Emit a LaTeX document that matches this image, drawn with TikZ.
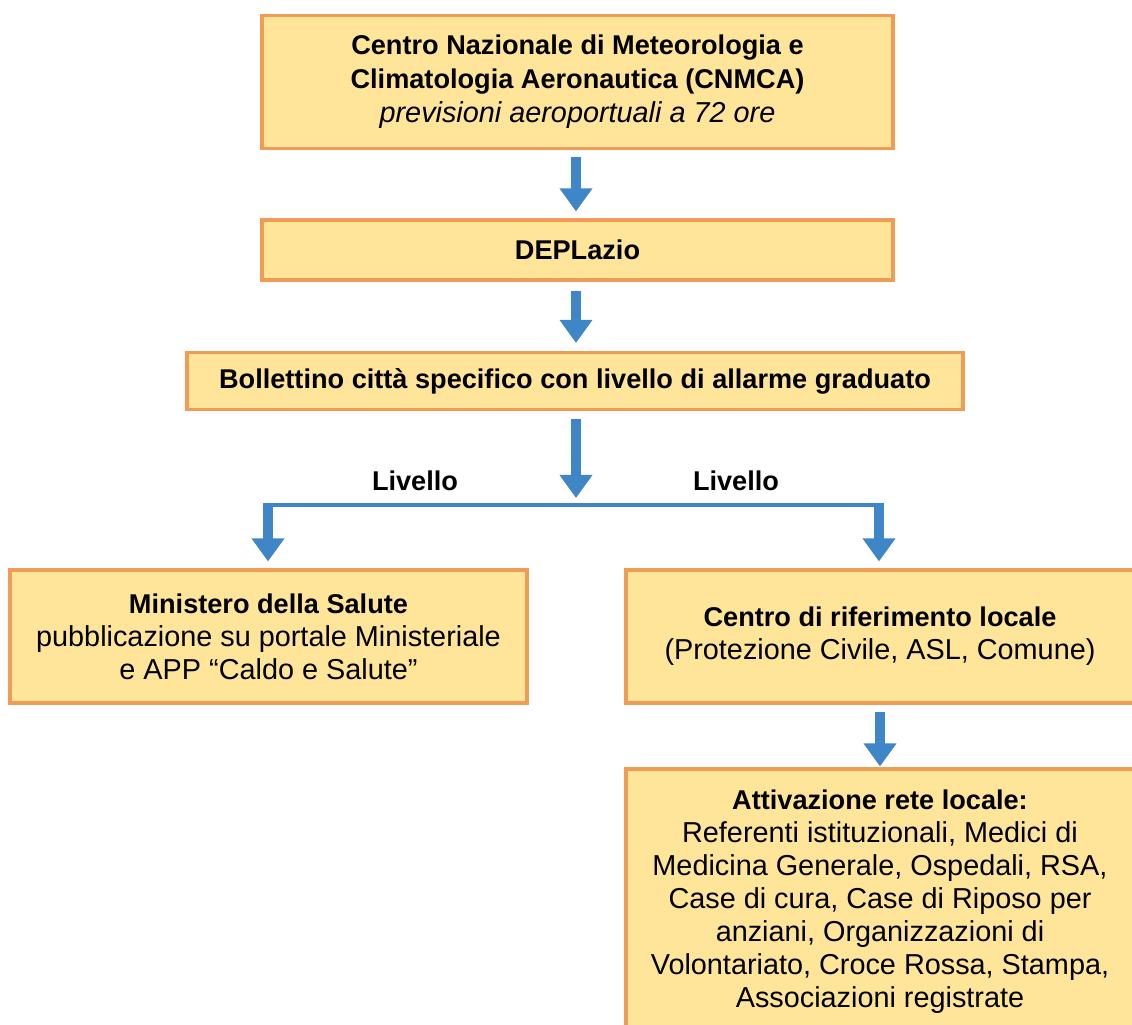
\documentclass[tikz,border=0pt]{standalone}
\usepackage{fontspec}
\setmainfont{Liberation Sans}
\usetikzlibrary{arrows.meta,positioning}

\definecolor{boxfill}{RGB}{255,229,153}
\definecolor{boxline}{RGB}{241,156,84}
\definecolor{arrowblue}{RGB}{62,134,200}

% one pixel of the 1132x1025 picture
\newlength{\px}
\setlength{\px}{0.025cm}

\newcommand{\titlebf}{\bfseries\fontsize{19.3}{23.4}\selectfont}
\newcommand{\bodyrm}{\fontsize{20.5}{23.4}\selectfont}

\tikzset{
  infobox/.style={draw=boxline, fill=boxfill, line width=2.2pt, align=center, inner sep=0pt,
    font=\fontsize{20}{33\px}\selectfont},
  blockarrow/.style={draw=arrowblue, line width=7pt, -{Triangle[width=22.5pt,length=16.5pt]}},
  splitline/.style={draw=arrowblue, line width=2.2pt},
  leveltext/.style={inner sep=0pt, font=\titlebf},
}

\begin{document}
\begin{tikzpicture}[x=0.025cm, y=-0.025cm]
\clip (0,0) rectangle (1132,1025);

\node[infobox, minimum width=631\px, minimum height=133\px, font=\fontsize{20}{34\px}\selectfont] (cnmca) at (577.5,82)
  {\titlebf Centro Nazionale di Meteorologia e\\
   \titlebf Climatologia Aeronautica (CNMCA)\\
   \bodyrm\itshape previsioni aeroportuali a 72 ore};
\node[infobox, minimum width=631\px, minimum height=60\px] (deplazio) at (577.5,250)
  {\titlebf DEPLazio};
\node[infobox, minimum width=776\px, minimum height=57\px] (bollettino) at (575,381)
  {\titlebf Bollettino città specifico con livello di allarme graduato};

\node[infobox, minimum width=517\px, minimum height=133\px] (ministero) at (268.5,636.5)
  {\titlebf Ministero della Salute\\
   \bodyrm pubblicazione su portale Ministeriale\\
   \bodyrm e APP “Caldo e Salute"};
\node[infobox, minimum width=508\px, minimum height=133\px] (centro) at (880,636.5)
  {\titlebf Centro di riferimento locale\\
   \bodyrm (Protezione Civile, ASL, Comune)};
\node[infobox, minimum width=508\px, minimum height=266\px] (attivazione) at (880,902)
  {\titlebf Attivazione rete locale:\\
   \bodyrm Referenti istituzionali, Medici di\\
   \bodyrm Medicina Generale, Ospedali, RSA,\\
   \bodyrm Case di cura, Case di Riposo per\\
   \bodyrm anziani, Organizzazioni di\\
   \bodyrm Volontariato, Croce Rossa, Stampa,\\
   \bodyrm Associazioni registrate};

% split of the alarm level
\coordinate (split) at (576,505);
\coordinate (lsplit) at (268,505);
\coordinate (rsplit) at (879,505);
\node[leveltext] (livsx) at (415,481) {Livello};
\node[leveltext] (livdx) at (736,481) {Livello};

\draw[blockarrow, shorten <=7\px, shorten >=7\px] (cnmca.south -| split) -- (deplazio.north -| split);
\draw[blockarrow, shorten <=9\px, shorten >=8\px] (deplazio.south -| split) -- (bollettino.north -| split);
\draw[blockarrow, shorten <=8\px, shorten >=7\px] (bollettino.south -| split) -- (split);

\draw[splitline] ([xshift=-5\px]lsplit) -- ([xshift=5\px]rsplit);
\foreach \s/\b in {lsplit/ministero, rsplit/centro} {
  \draw[blockarrow, shorten >=7\px] ([yshift=1.1pt]\s) -- (\s |- \b.north);
}

\draw[blockarrow, shorten <=7\px, shorten >=1\px] (centro) -- (attivazione);
\end{tikzpicture}
\end{document}
